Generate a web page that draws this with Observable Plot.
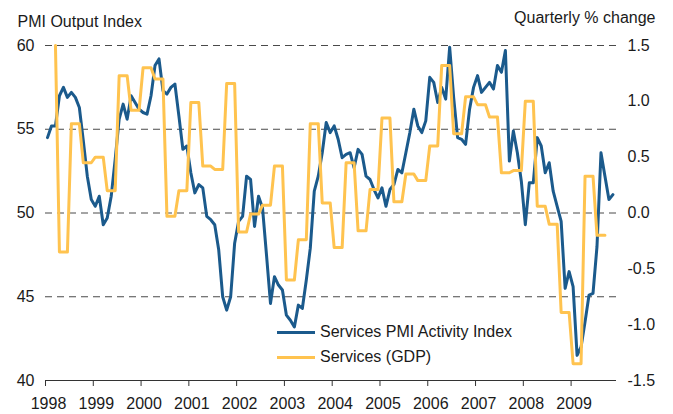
<!DOCTYPE html>
<html>
<head>
<meta charset="utf-8">
<script src="https://cdn.jsdelivr.net/npm/d3@7"></script>
<script src="https://cdn.jsdelivr.net/npm/@observablehq/plot@0.6"></script>
<style>
  body { margin: 0; background: #fff; }
  #chart { position: relative; width: 673px; height: 414px; font-family: "Liberation Sans", Arial, sans-serif; color: #1a1a1a; }
  .lg { position: absolute; left: 277px; height: 20px; display: flex; align-items: center; font-size: 16px; white-space: nowrap; }
  .lg span.sw { display: inline-block; width: 38px; height: 3px; margin-right: 5px; }
</style>
</head>
<body>
<div id="chart"></div>
<script>
// ---- data ----
const years = [1998, 1999, 2000, 2001, 2002, 2003, 2004, 2005, 2006, 2007, 2008, 2009];
const leftTicks = [40, 45, 50, 55, 60];
const gdpTicks = [-1.5, -1.0, -0.5, 0.0, 0.5, 1.0, 1.5];
const seriesNames = ["Services PMI Activity Index", "Services (GDP)"];
const leftTitle = "PMI Output Index";
const rightTitle = "Quarterly % change";

// Services PMI Activity Index, monthly (Jan..Dec)
const pmi1998 = [54.5, 55.2, 55.2, 57.0, 57.5, 56.9, 57.2, 56.9, 56.3, 54.3, 52.2, 50.8];
const pmi1999 = [50.4, 51.0, 49.3, 49.7, 51.0, 53.2, 55.6, 56.5, 55.6, 57.0, 56.6, 56.2];
const pmi2000 = [56.0, 55.9, 57.0, 58.8, 59.2, 57.3, 57.1, 57.5, 57.7, 55.8, 53.8, 54.0];
const pmi2001 = [52.4, 51.2, 51.7, 51.5, 49.8, 49.6, 49.3, 47.8, 45.0, 44.2, 45.0, 48.2];
const pmi2002 = [49.5, 49.8, 52.2, 52.0, 49.2, 51.0, 50.3, 47.5, 44.6, 46.2, 45.7, 45.4];
const pmi2003 = [43.9, 43.6, 43.2, 44.5, 44.3, 46.0, 47.9, 51.3, 52.2, 53.6, 55.4, 54.8];
const pmi2004 = [55.2, 54.4, 53.3, 53.5, 53.6, 52.7, 53.8, 53.5, 52.2, 52.0, 51.4, 50.9];
const pmi2005 = [51.5, 50.4, 51.4, 51.7, 52.6, 52.4, 53.6, 54.8, 56.2, 55.2, 54.8, 55.5];
const pmi2006 = [58.1, 57.8, 56.6, 57.5, 56.8, 59.9, 56.9, 54.5, 54.4, 54.1, 56.2, 57.5];
const pmi2007 = [58.2, 57.2, 57.5, 57.8, 57.4, 58.8, 58.4, 59.7, 53.1, 54.9, 53.6, 51.9];
const pmi2008 = [49.3, 51.8, 51.8, 54.5, 54.0, 52.4, 53.0, 51.3, 50.4, 49.5, 45.5, 46.5];
const pmi2009 = [45.6, 41.5, 42.0, 43.5, 45.1, 45.2, 48.0, 53.6, 52.2, 50.8, 51.1];

// Services output (GDP), quarterly % change (Q1..Q4)
const gdp1998 = [1.50, -0.35, 0.80, 0.45];
const gdp1999 = [0.50, 0.20, 1.23, 0.92];
const gdp2000 = [1.30, 1.20, -0.03, 0.20];
const gdp2001 = [0.99, 0.42, 0.39, 1.16];
const gdp2002 = [-0.17, -0.01, 0.07, 0.42];
const gdp2003 = [-0.60, -0.24, 0.80, 0.09];
const gdp2004 = [-0.31, 0.45, -0.16, 0.21];
const gdp2005 = [0.85, 0.10, 0.35, 0.29];
const gdp2006 = [0.60, 1.32, 0.71, 1.04];
const gdp2007 = [0.97, 0.86, 0.36, 0.38];
const gdp2008 = [1.00, 0.06, -0.10, -0.89];
const gdp2009 = [-1.35, 0.33, -0.20];
const gdpFirstMonth = 3; // series is shown from March 1998

// ---- build tables ----
const pmiByYear = [pmi1998, pmi1999, pmi2000, pmi2001, pmi2002, pmi2003, pmi2004, pmi2005, pmi2006, pmi2007, pmi2008, pmi2009];
const gdpByYear = [gdp1998, gdp1999, gdp2000, gdp2001, gdp2002, gdp2003, gdp2004, gdp2005, gdp2006, gdp2007, gdp2008, gdp2009];
const monthPos = (y, m) => y + (m - 0.5) / 12;

const pmiData = [];
pmiByYear.forEach((arr, i) => arr.forEach((v, j) => pmiData.push({date: monthPos(years[i], j + 1), value: v})));

const gdpData = [];
gdpByYear.forEach((arr, i) => arr.forEach((v, q) => {
  for (let k = 1; k <= 3; k++) {
    const m = q * 3 + k;
    if (i === 0 && m < gdpFirstMonth) continue;
    gdpData.push({date: monthPos(years[i], m), value: v});
  }
}));

const toLeft = v => 50 + v / 0.15;
const blue = "#1b5a8c";
const yellow = "#ffc34f";
const font = '"Liberation Sans", Arial, sans-serif';

const chart = Plot.plot({
  width: 673,
  height: 414,
  marginLeft: 45,
  marginRight: 57,
  marginTop: 45,
  marginBottom: 34,
  x: {domain: [1998, 2009.95]},
  y: {domain: [40, 60]},
  style: {fontFamily: font, fontSize: "16px", color: "#1a1a1a", background: "white", overflow: "visible"},
  marks: [
    Plot.ruleY(leftTicks.filter(d => d > 40), {stroke: "#4a4a4a", strokeDasharray: "7,5", strokeWidth: 1}),
    Plot.ruleY([40], {stroke: "#333", strokeWidth: 1}),
    Plot.axisX({ticks: years, tickSize: 6, fill: "none", stroke: "#333", tickFormat: d => String(d), label: null}),
    Plot.axisX({ticks: years, tickSize: 0, tickPadding: 17, dx: 3, fontSize: 16, tickFormat: d => String(d), label: null}),
    Plot.axisY({ticks: leftTicks, tickSize: 0, tickPadding: 11, fontSize: 16, anchor: "left", label: null}),
    Plot.axisY({ticks: gdpTicks.map(toLeft), tickSize: 0, tickPadding: 11, fontSize: 16, anchor: "right", label: null,
      tickFormat: d => ((d - 50) * 0.15).toFixed(1)}),
    Plot.line(pmiData, {x: "date", y: "value", stroke: blue, strokeWidth: 3}),
    Plot.line(gdpData, {x: "date", y: d => toLeft(d.value), stroke: yellow, strokeWidth: 3}),
    Plot.text([leftTitle], {text: d => d, frameAnchor: "top-left", dx: -28, dy: -19, lineAnchor: "bottom", textAnchor: "start", fontSize: 16}),
    Plot.text([rightTitle], {text: d => d, frameAnchor: "top-right", dx: 39, dy: -22.5, lineAnchor: "bottom", textAnchor: "end", fontSize: 16})
  ]
});

const root = document.getElementById("chart");
root.appendChild(chart);

const colors = [blue, yellow];
const tops = [322, 347];
seriesNames.forEach((name, i) => {
  const row = document.createElement("div");
  row.className = "lg";
  row.style.top = tops[i] + "px";
  const sw = document.createElement("span");
  sw.className = "sw";
  sw.style.background = colors[i];
  const tx = document.createElement("span");
  tx.textContent = name;
  row.appendChild(sw);
  row.appendChild(tx);
  root.appendChild(row);
});
</script>
</body>
</html>
